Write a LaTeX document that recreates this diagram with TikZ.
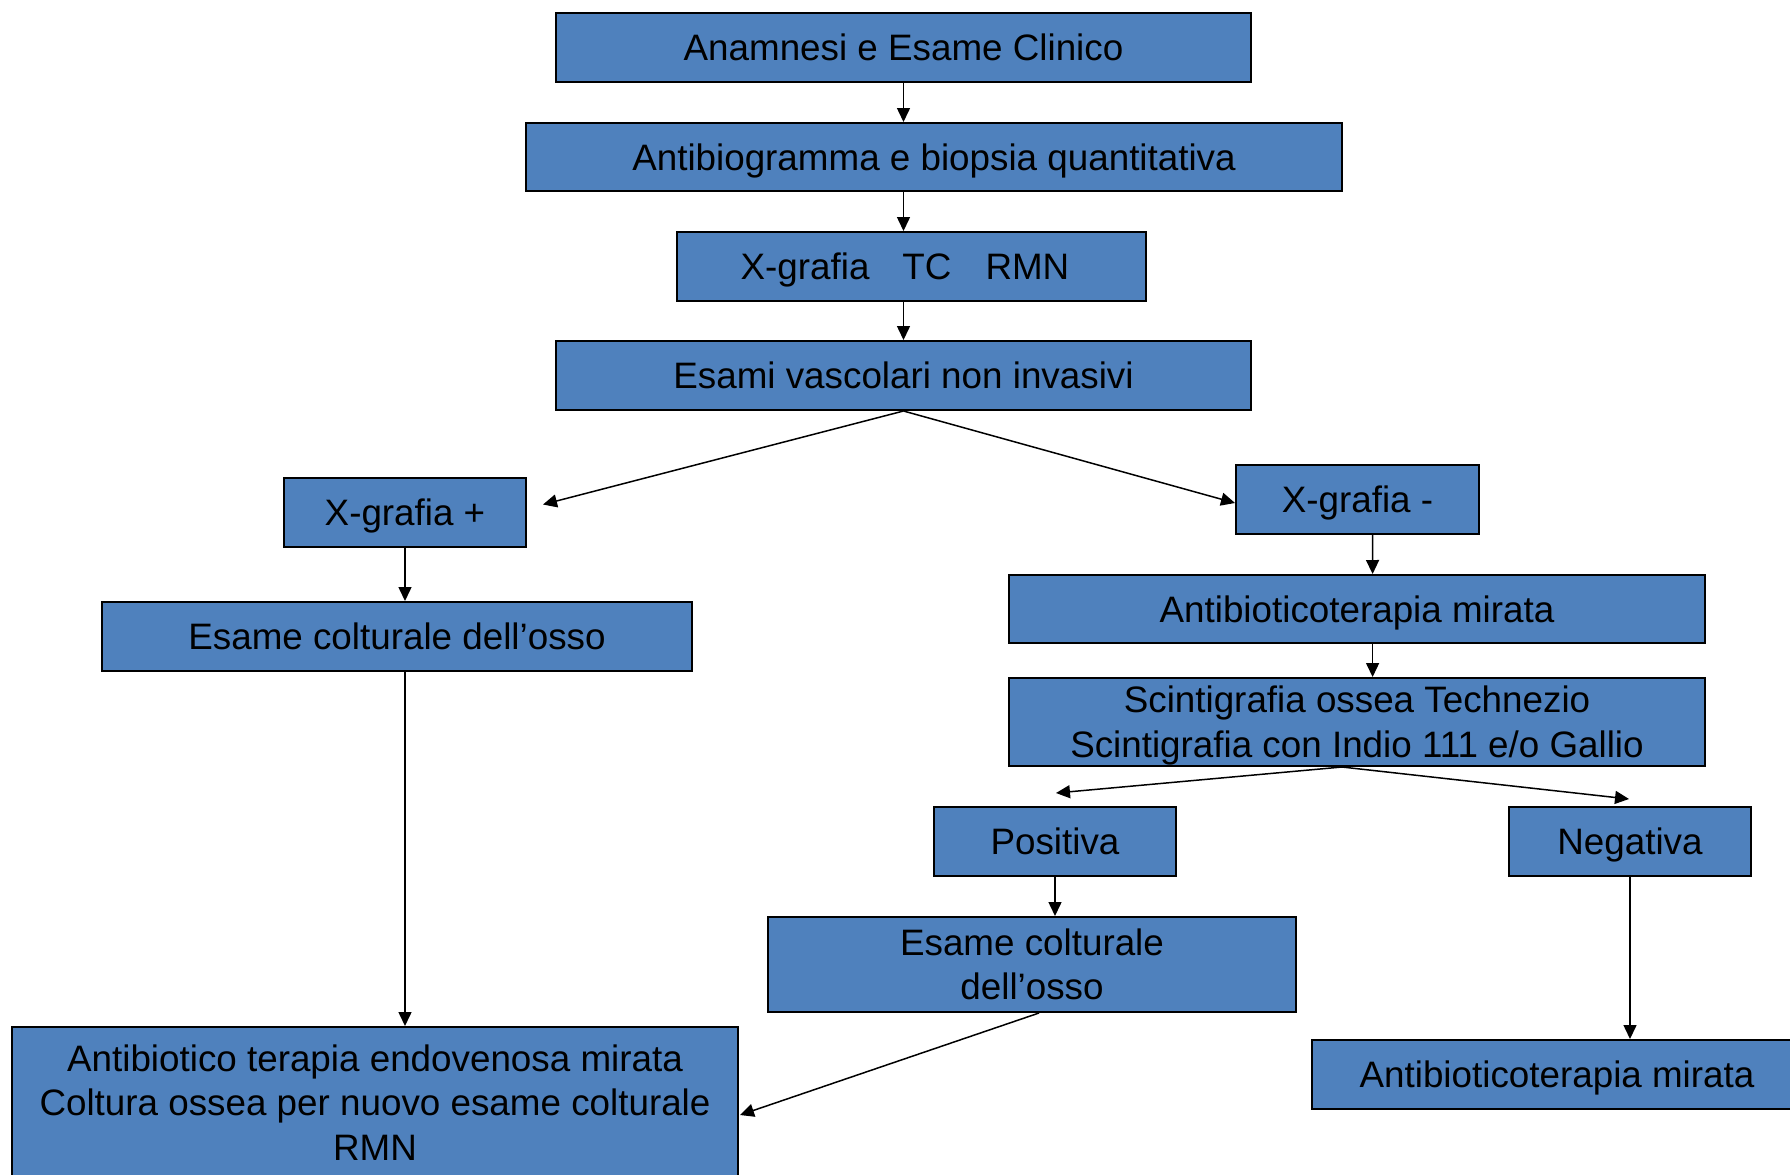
\documentclass[tikz,border=0pt]{standalone}
\usepackage{fontspec}
\setmainfont{Liberation Sans}
\usetikzlibrary{arrows.meta,calc}
\definecolor{boxblue}{HTML}{4F81BD}
\begin{document}
\begin{tikzpicture}[x=0.5pt,y=-0.5pt,
  box/.style={draw=black, line width=1pt, fill=boxblue, inner sep=0pt, align=center,
    font=\fontsize{18.4pt}{22.25pt}\selectfont, text height=13.2pt, text depth=0pt},
  sz/.style 2 args={minimum width=#1, minimum height=#2},
  conn/.style={line width=0.75pt, -{Triangle[length=7pt,width=6.5pt]}}]
\fill[white] (0,0) rectangle (1790,1174);
\useasboundingbox (0,0) rectangle (1790,1174);

% main column
\node[box, sz={347.5pt}{34.5pt}] (a1) at (903.5,47.5) {Anamnesi e Esame Clinico};
\node[box, sz={408pt}{34pt}] (a2) at (934,157) {Antibiogramma e biopsia quantitativa};
\node[box, sz={234.5pt}{34.5pt}] (a3) at (911.5,266.5) {X-grafia\hspace{16.5pt}TC\hspace{17pt}RMN\hspace{6.5pt}};
\node[box, sz={347.5pt}{34.5pt}] (a4) at (903.5,375.5) {Esami vascolari non invasivi};

% left branch
\node[box, sz={121pt}{34.5pt}] (xp) at (405,512.5) {X-grafia +};
\node[box, sz={295pt}{34.5pt}] (ecL) at (397,636.5) {Esame colturale dell’osso};
\node[box, sz={363pt}{75.5pt}, text height=57.7pt] (bl) at (375,1102.5)
  {Antibiotico terapia endovenosa mirata\\Coltura ossea per nuovo esame colturale\\RMN};

% right branch
\node[box, sz={121.5pt}{34.5pt}] (xm) at (1357.5,499.5) {X-grafia -};
\node[box, sz={348pt}{34pt}] (am) at (1357,609) {Antibioticoterapia mirata};
\node[box, sz={348pt}{44pt}, text height=35.45pt] (sc) at (1357,722)
  {Scintigrafia ossea Technezio\\Scintigrafia con Indio 111 e/o Gallio};
\node[box, sz={121pt}{34.5pt}] (pos) at (1055,841.5) {Positiva};
\node[box, sz={121pt}{34.5pt}] (neg) at (1630,841.5) {Negativa};
\node[box, sz={264pt}{47.5pt}, text height=35.45pt] (ecM) at (1032,964.5)
  {Esame colturale\\dell’osso};
\node[box, sz={245pt}{34.5pt}] (amB) at (1557,1074.5) {Antibioticoterapia mirata};

% connectors
\draw[conn] (a1.south) -- (a1.south |- a2.north);
\draw[conn] (a1.south |- a2.south) -- (a1.south |- a3.north);
\draw[conn] (a1.south |- a3.south) -- (a4.north);
\draw[conn] (a4.south) -- ($(xp.east)+(16,-8)$);
\draw[conn] (a4.south) -- ($(xm.west)+(0,3.5)$);
\draw[conn] (xp.south) -- (xp.south |- ecL.north);
\draw[conn] (xp.south |- ecL.south) -- (xp.south |- bl.north);
\draw[conn] ($(xm.south)+(15,0)$) -- ($(am.north)+(15.6,0)$);
\draw[conn] ($(am.south)+(15.6,0)$) -- ($(sc.north)+(15.6,0)$);
\draw[conn] ($(sc.south)+(-15,0)$) -- ($(pos.north)+(1,-13)$);
\draw[conn] ($(sc.south)+(-15,0)$) -- ($(neg.north)+(-1,-7)$);
\draw[conn] (pos.south) -- (pos.south |- ecM.north);
\draw[conn] ($(ecM.south)+(7,0)$) -- ($(bl.east)+(1,12.5)$);
\draw[conn] (neg.south) -- (neg.south |- amB.north);
\end{tikzpicture}
\end{document}
